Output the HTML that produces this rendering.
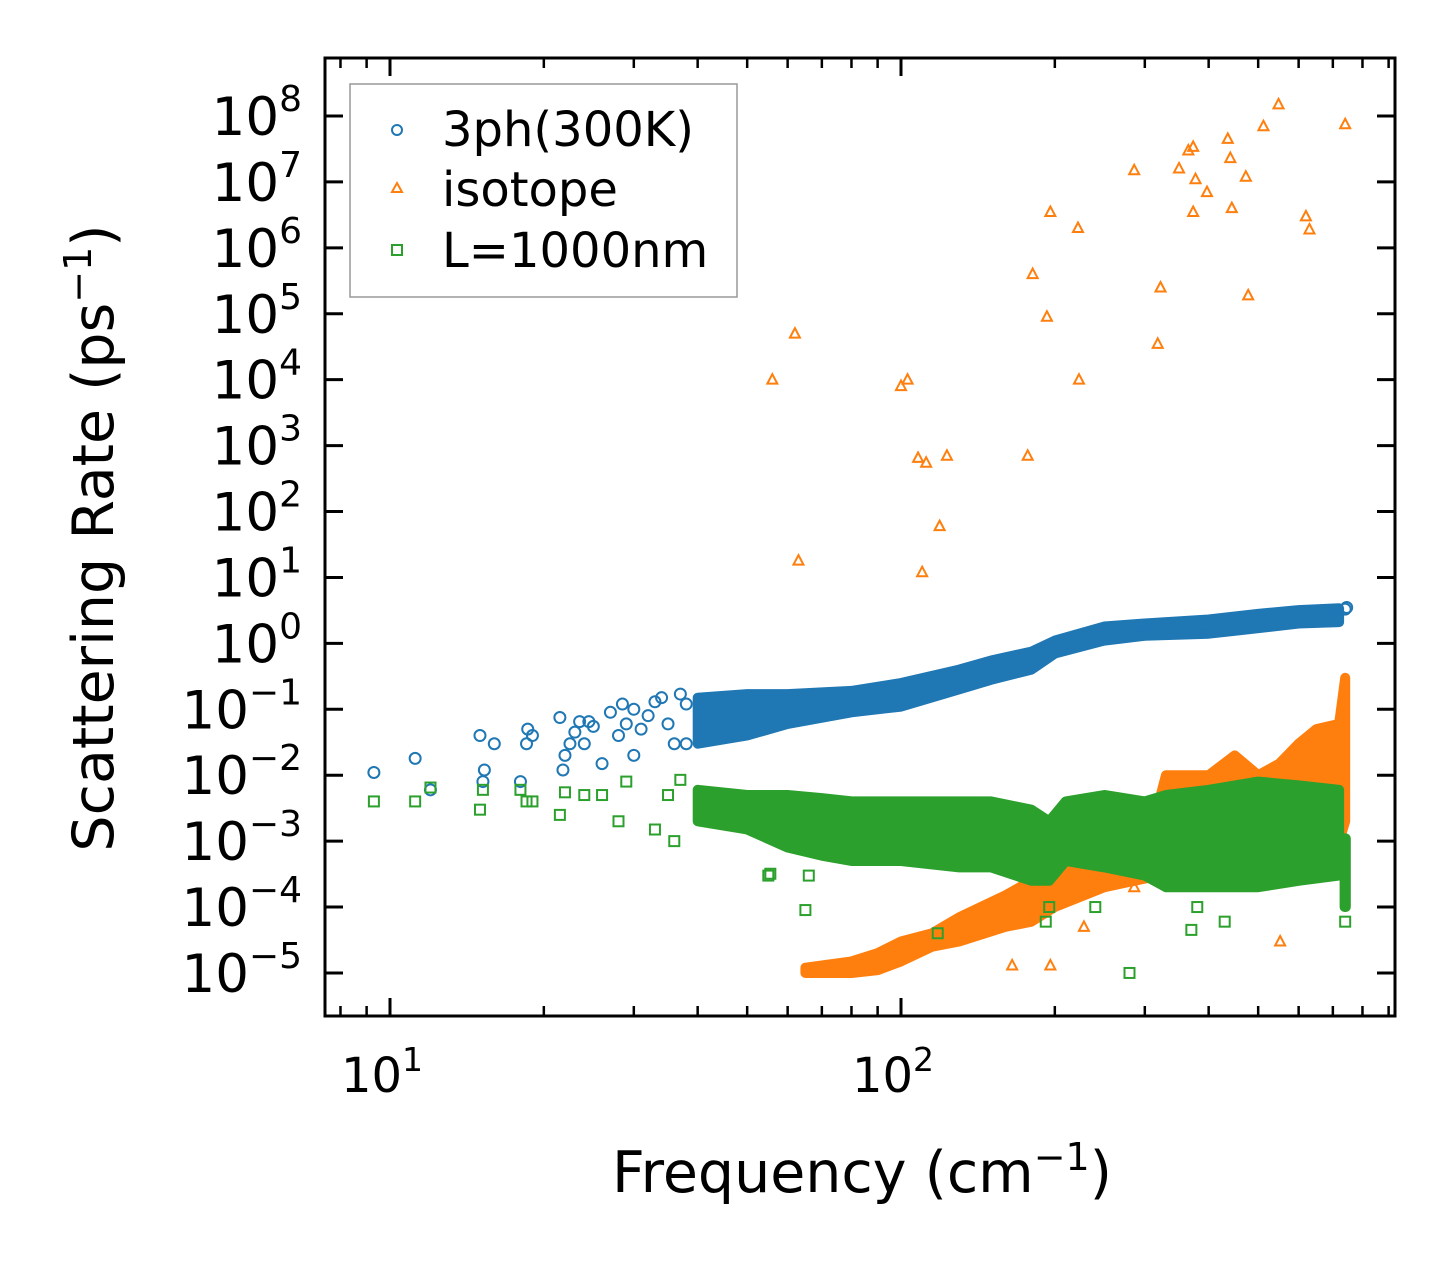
<!DOCTYPE html>
<html><head><meta charset="utf-8"><style>
html,body{margin:0;padding:0;background:#fff;}
svg{display:block;font-family:"DejaVu Sans","Liberation Sans",sans-serif;}
</style></head><body>
<svg id="chart" width="1455" height="1265" viewBox="0 0 1455 1265" xmlns="http://www.w3.org/2000/svg">
<rect x="0" y="0" width="1455" height="1265" fill="#fff"/>
<g id="marks"></g>
<g id="axes"></g>
<text x="862" y="1192" font-size="57" text-anchor="middle">Frequency (cm<tspan font-size="38" dy="-22">−1</tspan><tspan dy="22">)</tspan></text>
<text transform="translate(113,538) rotate(-90)" font-size="57" text-anchor="middle">Scattering Rate (ps<tspan font-size="38" dy="-22">−1</tspan><tspan dy="22">)</tspan></text>
<g>
<rect x="350" y="84" width="387" height="213" fill="#fff" stroke="#999" stroke-width="1.5"/>
<g><circle cx="397" cy="130" r="5" fill="none" stroke="#1f77b4" stroke-width="2"/><text x="442" y="146" font-size="48">3ph(300K)</text></g>
<g><polygon points="397,183 402,192 392,192" fill="none" stroke="#ff7f0e" stroke-width="2"/><text x="442" y="206" font-size="48">isotope</text></g>
<g><rect x="392" y="245" width="10" height="10" fill="none" stroke="#2ca02c" stroke-width="2"/><text x="442" y="267" font-size="48">L=1000nm</text></g>
</g>
</svg>
<script>
// ---- data ----
const blueBandF = [40,50,60,80,100,130,150,180,200,250,300,400,500,600,720];
const blueBandLo = [0.03,0.04,0.06,0.09,0.11,0.2,0.28,0.4,0.7,1.1,1.3,1.4,1.7,2.0,2.1];
const blueBandHi = [0.15,0.17,0.17,0.19,0.25,0.4,0.55,0.75,1.1,1.8,2.0,2.3,2.8,3.2,3.4];
const bluePtsF = [9.3,11.2,12,15,15.2,15.3,16,18,18.5,18.6,19,21.5,21.8,22,22.5,23,23.5,24,24.5,25,26,27,28,28.5,29,30,30,31,32,33,34,35,36,37,38,38,740,745];
const bluePtsV = [0.011,0.018,0.006,0.04,0.008,0.012,0.03,0.008,0.03,0.05,0.04,0.075,0.012,0.02,0.03,0.045,0.065,0.03,0.065,0.055,0.015,0.09,0.04,0.12,0.06,0.02,0.1,0.05,0.08,0.13,0.15,0.06,0.03,0.17,0.03,0.12,3.3,3.5];

const orBandF = [65,80,90,100,115,130,160,180,200,250,320,330,400,450,500,550,600,650,720,740];
const orBandLo = [1e-5,1e-5,1.1e-5,1.5e-5,2.5e-5,3e-5,5e-5,6e-5,1e-4,2e-4,3e-4,3e-4,3e-4,3e-4,3e-4,4e-4,5e-4,8e-4,1e-3,2e-3];
const orBandHi = [1.2e-5,1.5e-5,2e-5,3e-5,4e-5,7e-5,1.5e-4,2.5e-4,1e-3,2e-3,4e-3,1e-2,1e-2,2e-2,1e-2,1.5e-2,3e-2,5e-2,6e-2,0.3];
const orPtsF = [56,62,63,100,103,108,110,112,119,123,177,181,193,196,222,223,286,318,322,350,365,373,373,377,397,436,441,444,473,478,512,548,620,630,740,228,286,552,165,196];
const orPtsV = [1e4,5e4,18,8e3,1e4,650,12,550,60,700,700,4e5,9e4,3.5e6,2e6,1e4,1.5e7,3.5e4,2.5e5,1.6e7,3e7,3.4e7,3.5e6,1.1e7,7e6,4.5e7,2.3e7,4e6,1.2e7,1.9e5,7e7,1.5e8,3e6,1.9e6,7.5e7,5e-5,2e-4,3e-5,1.3e-5,1.3e-5];

const grBandF = [40,50,60,70,80,100,130,150,180,195,210,250,300,330,400,500,600,720];
const grBandLo = [2e-3,1.5e-3,8e-4,6e-4,5e-4,5e-4,4e-4,4e-4,2.5e-4,2.5e-4,5e-4,4e-4,3e-4,2e-4,2e-4,2e-4,2.5e-4,3e-4];
const grBandHi = [6e-3,5e-3,5e-3,4.5e-3,4e-3,4e-3,4e-3,4e-3,3e-3,2e-3,4e-3,5e-3,4e-3,5e-3,6e-3,8e-3,7e-3,6e-3];
const grColF = [738,742];
const grColLo = [1e-4,1e-4];
const grColHi = [1.1e-3,1.1e-3];
const grPtsF = [9.3,11.2,12,15,15.2,18,18.5,19,21.5,22,24,26,28,29,33,35,36,37,55,55.5,65,66,118,280,370,430,240,380,192,195,740];
const grPtsV = [4e-3,4e-3,6.5e-3,3e-3,6e-3,6e-3,4e-3,4e-3,2.5e-3,5.5e-3,5e-3,5e-3,2e-3,8e-3,1.5e-3,5e-3,1e-3,8.5e-3,3e-4,3.2e-4,9e-5,3e-4,4e-5,1e-5,4.5e-5,6e-5,1e-4,1e-4,6e-5,1e-4,6e-5];

const yTickExps = [-5,-4,-3,-2,-1,0,1,2,3,4,5,6,7,8];
const xMajorTicks = [10,100];
const xMajorLabels = ['1','2'];
const xMinorTicks = [8,9,20,30,40,50,60,70,80,90,200,300,400,500,600,700,800,900];

// ---- axes functions ----
const L=325,R=1395,T=58,B=1016;
function X(f){return 390+(Math.log10(f)-1)*511;}
function Y(v){return 116+(8-Math.log10(v))*65.92;}
const NS='http://www.w3.org/2000/svg';
const marks=document.getElementById('marks'), axes=document.getElementById('axes');
function mk(tag,attrs,parent){const e=document.createElementNS(NS,tag);for(const k in attrs)e.setAttribute(k,attrs[k]);parent.appendChild(e);return e;}

function band(F,Lo,Hi,color,name){
  let pts=[];
  for(let i=0;i<F.length;i++)pts.push(X(F[i]).toFixed(1)+','+Y(Hi[i]).toFixed(1));
  for(let i=F.length-1;i>=0;i--)pts.push(X(F[i]).toFixed(1)+','+Y(Lo[i]).toFixed(1));
  const p=mk('polygon',{points:pts.join(' '),fill:color,stroke:color,'stroke-width':10,'stroke-linejoin':'round'},marks);
  
  
}
function pts(F,V,kind,color,name){
  const g=mk('g',{},marks);
  
  
  for(let i=0;i<F.length;i++){
    const x=X(F[i]),y=Y(V[i]);
    let e;
    if(kind==='c')e=mk('circle',{cx:x,cy:y,r:5.5,fill:'none',stroke:color,'stroke-width':2},g);
    else if(kind==='t')e=mk('polygon',{points:`${x},${y-5.5} ${x+5},${y+4} ${x-5},${y+4}`,fill:'none',stroke:color,'stroke-width':2},g);
    else e=mk('rect',{x:x-5,y:y-5,width:10,height:10,fill:'none',stroke:color,'stroke-width':2},g);
    
    
  }
}
band(blueBandF,blueBandLo,blueBandHi,'#1f77b4','series-3ph-band');
pts(bluePtsF,bluePtsV,'c','#1f77b4','series-3ph-points');
band(orBandF,orBandLo,orBandHi,'#ff7f0e','series-isotope-band');
pts(orPtsF,orPtsV,'t','#ff7f0e','series-isotope-points');
band(grBandF,grBandLo,grBandHi,'#2ca02c','series-boundary-band');
band(grColF,grColLo,grColHi,'#2ca02c','series-boundary-column');
pts(grPtsF,grPtsV,'s','#2ca02c','series-boundary-points');

const fr=mk('rect',{x:L,y:T,width:R-L,height:B-T,fill:'none',stroke:'#000','stroke-width':3},axes);


yTickExps.forEach(e=>{
  const y=Y(Math.pow(10,e));
  mk('line',{x1:L,x2:L+18,y1:y,y2:y,stroke:'#000','stroke-width':3},axes);
  mk('line',{x1:R,x2:R-18,y1:y,y2:y,stroke:'#000','stroke-width':3},axes);
  const t=mk('text',{x:302,y:y+19,'font-size':53,'text-anchor':'end'},axes);
  
  
  t.innerHTML='10<tspan font-size="36" dy="-24">'+(e<0?'−'+(-e):e)+'</tspan>';
});
xMajorTicks.forEach((f,i)=>{
  const x=X(f);
  mk('line',{x1:x,x2:x,y1:B,y2:B-18,stroke:'#000','stroke-width':3},axes);
  mk('line',{x1:x,x2:x,y1:T,y2:T+18,stroke:'#000','stroke-width':3},axes);
  const t=mk('text',{x:x-8,y:1092,'font-size':48,'text-anchor':'middle'},axes);
  
  
  t.innerHTML='10<tspan font-size="33" dy="-21">'+xMajorLabels[i]+'</tspan>';
});
xMinorTicks.forEach(f=>{
  const x=X(f);
  mk('line',{x1:x,x2:x,y1:B,y2:B-10,stroke:'#000','stroke-width':2.5},axes);
  mk('line',{x1:x,x2:x,y1:T,y2:T+10,stroke:'#000','stroke-width':2.5},axes);
});
</script>
</body></html>
